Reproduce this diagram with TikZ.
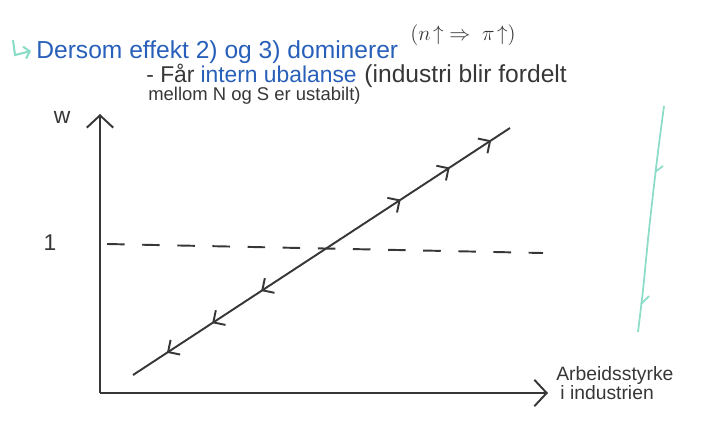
\documentclass[tikz,border=0pt]{standalone}
\usepackage{fontspec}
\setmainfont{Liberation Sans}
\usetikzlibrary{positioning}
\usetikzlibrary{arrows.meta, decorations.markings}
\definecolor{inkblue}{RGB}{40,95,185}
\definecolor{inkgreen}{RGB}{140,220,200}
\definecolor{pencil}{RGB}{55,55,55}

\begin{document}
\begin{tikzpicture}[x=0.02cm,y=-0.02cm,
  ink/.style={draw=pencil,line width=1.1pt},
  barb/.style={-{Straight Barb[length=7pt,width=15pt]}},
  flow/.style={postaction={decorate},decoration={markings,
    mark=at position 0.09 with {\arrowreversed{Straight Barb[length=5pt,width=10pt]}},
    mark=at position 0.21 with {\arrowreversed{Straight Barb[length=5pt,width=10pt]}},
    mark=at position 0.34 with {\arrowreversed{Straight Barb[length=5pt,width=10pt]}},
    mark=at position 0.71 with {\arrow{Straight Barb[length=5pt,width=10pt]}},
    mark=at position 0.84 with {\arrow{Straight Barb[length=5pt,width=10pt]}},
    mark=at position 0.95 with {\arrow{Straight Barb[length=5pt,width=10pt]}}}},
  lbl/.style={text=pencil,inner sep=0pt,font=\fontsize{13}{15}\selectfont},
  note/.style={inner sep=0pt,anchor=base west}]
\useasboundingbox (0,0) rectangle (707,427);
\clip (0,0) rectangle (707,427);

% heading
\draw[inkgreen,line width=1.2pt,-{Straight Barb[length=3pt,width=7pt]}] (13,40) -- (15,55) -- (31,51);
\node[note,text=inkblue,font=\fontsize{14}{16}\selectfont] (head) at (36,58) {Dersom effekt 2) og 3) dominerer};
\node[note,text=pencil,font=\fontsize{13}{15}\selectfont] (impl) at (410,40) {$(n\!\uparrow\;\Rightarrow\;\pi\!\uparrow)$};
\node[note,text=pencil,font=\fontsize{13}{15}\selectfont] (faar) at (146,82) {- Får};
\node[note,text=inkblue,font=\fontsize{13}{15}\selectfont,right=3pt of faar.base east,anchor=base west] (ubal) {intern ubalanse};
\node[note,text=pencil,font=\fontsize{14}{16}\selectfont,right=4pt of ubal.base east,anchor=base west] (indu) {(industri blir fordelt};
\node[note,text=pencil,font=\fontsize{10.5}{12}\selectfont] (mell) at (148,100) {mellom N og S er ustabilt)};

% axes
\coordinate (O) at (100,393);
\coordinate (ytop) at (100,114);
\coordinate (xend) at (548,393);
\draw[ink,barb] (O) -- (ytop);
\draw[ink,barb] (O) -- (xend);
\node[lbl] (wlab) at (62,117) {w};
\node[lbl] (one) at (50,243) {1};
\node[note,text=pencil,font=\fontsize{11}{13}\selectfont] (xlab1) at (556,380) {Arbeidsstyrke};
\node[note,text=pencil,font=\fontsize{11}{13}\selectfont] (xlab2) at (560,399) {i industrien};

% w = 1
\coordinate (d1) at (107,244);
\coordinate (d2) at (543,253);
\draw[ink,dash pattern=on 10pt off 10pt] (d1) -- (d2);

% unstable line
\coordinate (lo) at (133,375);
\coordinate (hi) at (510,128);
\draw[ink,flow] (lo) -- (hi);

% brace on the right
\draw[inkgreen,line width=1pt] plot[smooth] coordinates {(664,106) (657,160) (649,230) (643,290) (638,332)};
\draw[inkgreen,line width=1pt] (655,172) -- (663,166);
\draw[inkgreen,line width=1pt] (641,304) -- (649,296);
\end{tikzpicture}
\end{document}
